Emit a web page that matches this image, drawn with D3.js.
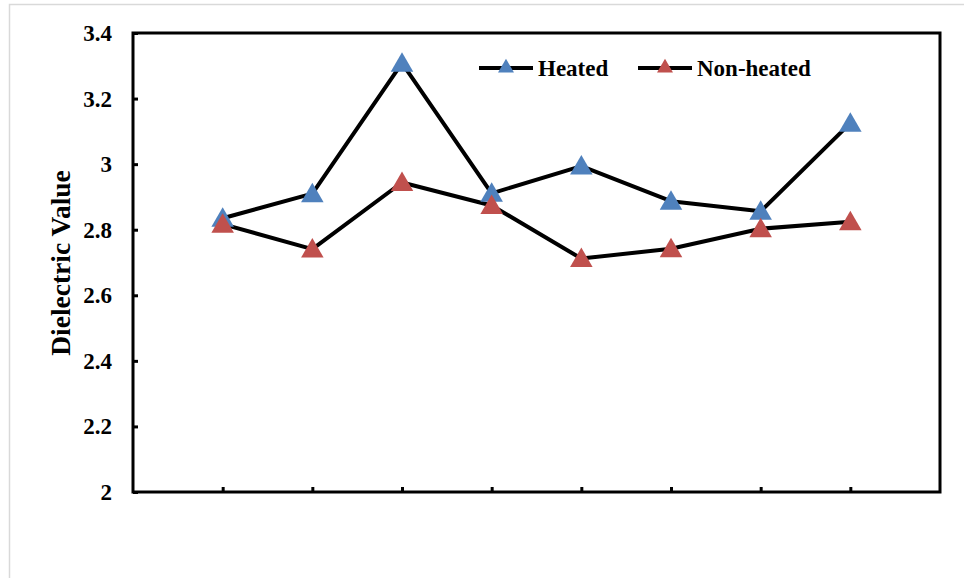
<!DOCTYPE html>
<html>
<head>
<meta charset="utf-8">
<script src="https://cdn.jsdelivr.net/npm/d3@7"></script>
<style>
  html, body { margin: 0; padding: 0; background: #fff; }
  svg { display: block; }
  text { font-family: "Liberation Serif", "Times New Roman", serif; font-weight: bold; fill: #000; }
</style>
</head>
<body>
<svg id="chart" width="964" height="578"></svg>
<script>
// Sample positions (no category labels on the axis)
const samples = [1, 2, 3, 4, 5, 6, 7, 8];
const heated    = [2.835, 2.910, 3.308, 2.911, 2.994, 2.887, 2.856, 3.125];
const nonHeated = [2.817, 2.741, 2.944, 2.874, 2.712, 2.742, 2.803, 2.824];
const yTicks = [2, 2.2, 2.4, 2.6, 2.8, 3, 3.2, 3.4];
const seriesNames = ["Heated", "Non-heated"];
const seriesColors = ["#4F81BD", "#C0504D"];

const svg = d3.select("#chart");
const plot = { left: 133, top: 33, right: 940, bottom: 492 };

// outer frame
svg.append("rect")
  .attr("x", 9.5).attr("y", 4.5)
  .attr("width", 1200).attr("height", 1200)
  .attr("fill", "none").attr("stroke", "#d9d9d9").attr("stroke-width", 1.5);

const x = d3.scaleLinear().domain([0, samples.length + 1]).range([plot.left, plot.right]);
const y = d3.scaleLinear().domain([2, 3.4]).range([plot.bottom, plot.top]);

// plot frame
svg.append("rect")
  .attr("x", plot.left).attr("y", plot.top)
  .attr("width", plot.right - plot.left).attr("height", plot.bottom - plot.top)
  .attr("fill", "none").attr("stroke", "#000").attr("stroke-width", 3);

// y axis (ticks pointing inward)
const yAxis = d3.axisRight(y).tickValues(yTicks).tickSize(5).tickFormat(d3.format("~g"));
const gy = svg.append("g").attr("transform", `translate(${plot.left},0)`).call(yAxis);
gy.select(".domain").remove();
gy.selectAll(".tick line").attr("stroke", "#000").attr("stroke-width", 3);
gy.selectAll(".tick text").remove();
svg.append("g").selectAll("text").data(yTicks).join("text")
  .attr("x", 112).attr("y", d => y(d)).attr("dy", "0.35em")
  .attr("text-anchor", "end").attr("font-size", 23)
  .text(d => d3.format("~g")(d));

// x axis (ticks pointing up, no labels)
const xAxis = d3.axisTop(x).tickValues(samples).tickSize(5).tickFormat("");
const gx = svg.append("g").attr("transform", `translate(0,${plot.bottom})`).call(xAxis);
gx.select(".domain").remove();
gx.selectAll(".tick line").attr("stroke", "#000").attr("stroke-width", 3);

// y axis title
svg.append("text")
  .attr("transform", `translate(70,263) rotate(-90)`)
  .attr("text-anchor", "middle").attr("font-size", 27.5)
  .text("Dielectric Value");

const tri = d3.symbol().type(d3.symbolTriangle).size(220);
const line = d3.line().x((d, i) => x(samples[i])).y(d => y(d));

[heated, nonHeated].forEach(vals => {
  svg.append("path").datum(vals)
    .attr("d", line).attr("fill", "none")
    .attr("stroke", "#000").attr("stroke-width", 4).attr("stroke-linejoin", "round");
});
[heated, nonHeated].forEach((vals, k) => {
  svg.append("g").selectAll("path").data(vals).join("path")
    .attr("d", tri)
    .attr("transform", (d, i) => `translate(${x(samples[i])},${y(d) + 2})`)
    .attr("fill", seriesColors[k]);
});

// legend
const legendX = [479, 638];
seriesNames.forEach((name, k) => {
  const g = svg.append("g").attr("transform", `translate(${legendX[k]},68)`);
  g.append("line").attr("x1", 0).attr("x2", 54).attr("y1", 0).attr("y2", 0)
    .attr("stroke", "#000").attr("stroke-width", 4);
  g.append("path").attr("d", d3.symbol().type(d3.symbolTriangle).size(110))
    .attr("transform", "translate(27,0)").attr("fill", seriesColors[k]);
  g.append("text").attr("x", 59).attr("y", 0).attr("dy", "0.35em")
    .attr("font-size", 23).text(name);
});
</script>
</body>
</html>
